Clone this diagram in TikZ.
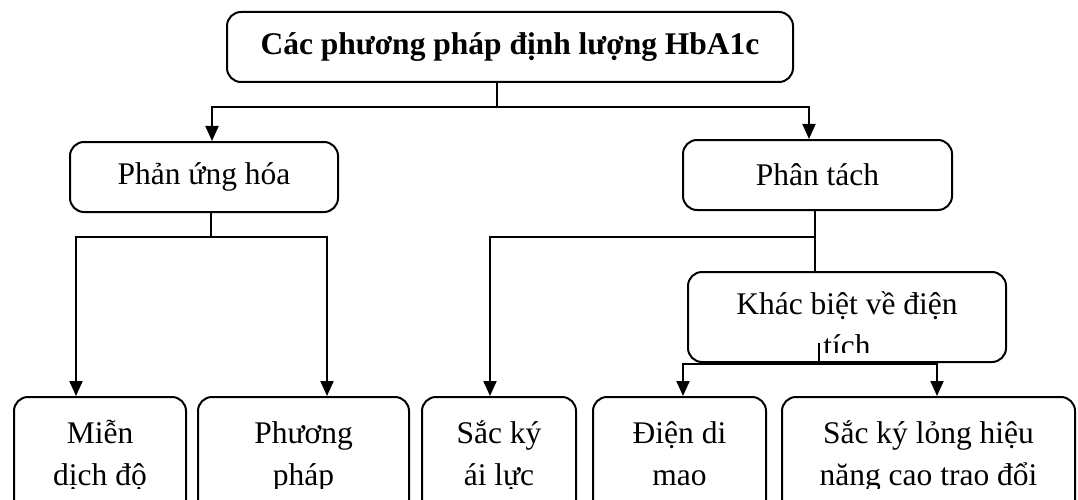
\documentclass[tikz,border=0pt]{standalone}
\usepackage{fontspec}
\setmainfont{Liberation Serif}
\usetikzlibrary{arrows.meta}
\tikzset{
  box/.style={draw=black,line width=2pt,rounded corners=14pt,fill=white,inner sep=0pt},
  txt/.style={font=\fontsize{31.5}{42}\selectfont,align=center,inner sep=0pt},
  link/.style={line width=2pt},
  arr/.style={link,-{Triangle[length=15pt,width=13pt]}},
}

\begin{document}
\begin{tikzpicture}[x=1pt,y=-1pt]
	\clip (0,0) rectangle (1078,500);
	% boxes
	\node [box,minimum width=566pt,minimum height=70pt] at (510,47) (top) {};
	\node [box,minimum width=268pt,minimum height=70pt] at (204,177) (phanung) {};
	\node [box,minimum width=269pt,minimum height=70pt] at (817.5,175) (phantach) {};
	\node [box,minimum width=318pt,minimum height=90pt] at (847,317) (khac) {};
	\node [box,minimum width=172pt,minimum height=160pt,anchor=north] at (100,396) (mien) {};
	\node [box,minimum width=211pt,minimum height=160pt,anchor=north] at (303.5,396) (pp) {};
	\node [box,minimum width=154pt,minimum height=160pt,anchor=north] at (499,396) (sacky) {};
	\node [box,minimum width=173pt,minimum height=160pt,anchor=north] at (679.5,396) (dien) {};
	\node [box,minimum width=293pt,minimum height=160pt,anchor=north] at (928.5,396) (hplc) {};
	% texts
	\node [txt,font=\fontsize{31.5}{42}\selectfont\bfseries] at (top) {Các phương pháp định lượng HbA1c};
	\node [txt] at (phanung) {Phản ứng hóa};
	\node [txt] at (phantach) {Phân tách};
	\begin{scope}
		\clip (khac.north west) rectangle ([yshift=11pt]khac.south east);
		\path (khac.north) ++(0,85) node [txt,anchor=base] {Khác biệt về điện\\tích};
	\end{scope}
	\begin{scope}
		\clip (0,0) rectangle (1078,488);
		\path (mien.north) ++(0,89) node [txt,anchor=base] {Miễn\\dịch độ};
		\path (pp.north) ++(0,89) node [txt,anchor=base] {Phương\\pháp};
		\path (sacky.north) ++(0,89) node [txt,anchor=base] {Sắc ký\\ái lực};
		\path (dien.north) ++(0,89) node [txt,anchor=base] {Điện di\\mao};
		\path (hplc.north) ++(0,89) node [txt,anchor=base] {Sắc ký lỏng hiệu\\năng cao trao đổi};
	\end{scope}
	% connectors
	\coordinate (j1) at (497,107);
	\draw [link] (j1 |- top.south) -- (j1);
	\draw [arr] (j1) -| ([xshift=8pt]phanung.north);
	\draw [arr] (j1) -| ([xshift=-8.5pt]phantach.north);
	\coordinate (j2) at (211,237);
	\draw [link] (j2 |- phanung.south) -- (j2);
	\draw [arr] (j2) -| ([xshift=-24pt]mien.north);
	\draw [arr] (j2) -| ([xshift=23.5pt]pp.north);
	\coordinate (j3) at (815,237);
	\draw [link] (phantach.south -| j3) -- (khac.north -| j3);
	\draw [arr] (j3) -| ([xshift=-9pt]sacky.north);
	\coordinate (j4) at (819,364);
	\draw [link] ([yshift=20pt]khac.south -| j4) -- (j4);
	\draw [arr] (j4) -| ([xshift=3.5pt]dien.north);
	\draw [arr] (j4) -| ([xshift=8.5pt]hplc.north);
\end{tikzpicture}
\end{document}
